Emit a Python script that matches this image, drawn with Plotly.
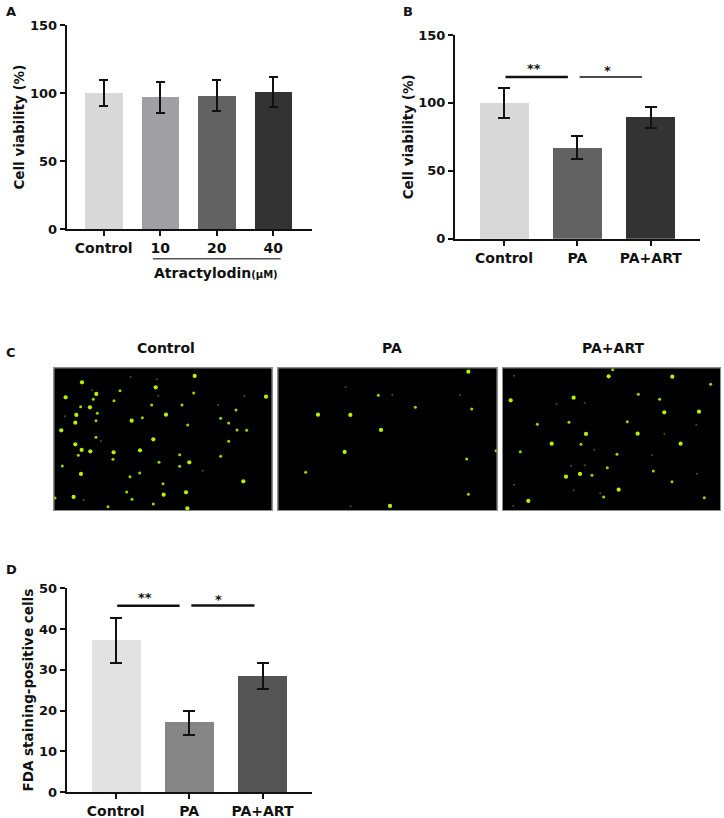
import plotly.graph_objects as go

W, H = 724, 818
FONT = "DejaVu Sans"

# Panel A
a_cats = ["Control", "10", "20", "40"]
a_vals = [100, 97, 98, 101]
a_err = [9.8, 11.4, 11.3, 11]
a_cols = ["#d8d8d8", "#a0a0a4", "#626262", "#333333"]
# Panel B
b_cats = ["Control", "PA", "PA+ART"]
b_vals = [100, 67, 89.5]
b_err = [11.3, 8.5, 7.7]
b_cols = ["#d8d8d8", "#626262", "#333333"]
# Panel D
d_cats = ["Control", "PA", "PA+ART"]
d_vals = [37.2, 17, 28.4]
d_err = [5.6, 2.9, 3.2]
d_cols = ["#e2e2e2", "#858585", "#555555"]

# Panel C: fluorescent spots (image units)
ctrl_large = [(246,157),(197,202),(467,172),(584,138),(798,200),(270,232),(229,255),(226,278),(395,272),(498,254),(184,301),(226,343),(245,360),(271,364),(420,361),(460,328),(243,432),(558,487),(491,494),(341,367),(289,192),(730,454),(568,397),(221,501),(562,535)]
ctrl_small = [(581,189),(242,230),(280,208),(342,212),(292,250),(288,272),(288,322),(427,263),(546,225),(662,265),(686,279),(711,300),(740,301),(708,240),(686,334),(539,374),(539,409),(662,379),(339,388),(235,376),(187,408),(390,440),(380,486),(396,508),(324,530),(460,522),(489,461),(419,429),(477,397),(563,285),(165,504),(360,182),(455,225)]
ctrl_dim = [(392,141),(276,180),(475,197),(195,259),(303,333),(608,422),(251,510),(654,225),(470,148),(733,199)]
pa_large = [(144,254),(241,255),(333,300),(224,366),(360,528),(595,125)]
pa_small = [(325,196),(436,232),(605,237),(595,493),(590,387),(107,427),(678,362)]
pa_dim = [(227,171),(570,195),(242,529),(367,194)]
art_large = [(47,211),(341,139),(532,140),(236,203),(508,247),(612,245),(273,312),(170,341),(557,341),(255,432),(213,440),(371,479),(100,513),(428,311)]
art_small = [(353,119),(647,163),(430,193),(494,208),(397,275),(222,277),(127,283),(258,343),(76,365),(366,373),(337,413),(291,436),(475,423),(531,455),(326,501),(628,503)]
art_dim = [(185,223),(269,218),(604,284),(298,359),(471,376),(228,407),(606,431),(236,481),(57,464),(316,490),(508,311),(55,528),(57,137),(269,406)]
c_titles = ["Control", "PA", "PA+ART"]


def px_x(a, b):
    return [a / W, b / W]


def px_y(top, bottom):
    return [1 - bottom / H, 1 - top / H]


fig = go.Figure()


def bars(n, cats, vals, err, cols, width, cap):
    fig.add_trace(go.Bar(
        x=cats, y=vals, marker=dict(color=cols, line_width=0), width=width,
        xaxis=f"x{n}", yaxis=f"y{n}", showlegend=False, hoverinfo="skip",
        error_y=dict(type="data", array=err, color="#111111", thickness=2, width=cap),
    ))


bars("", a_cats, a_vals, a_err, a_cols, 0.667, 4.7)
bars("2", b_cats, b_vals, b_err, b_cols, 0.668, 6)
bars("3", d_cats, d_vals, d_err, d_cols, 0.668, 6)


def spots(n, groups):
    for pts, size, col in groups:
        fig.add_trace(go.Scatter(
            x=[p[0] for p in pts], y=[p[1] for p in pts], mode="markers",
            marker=dict(size=size, color=col, line_width=0),
            xaxis=f"x{n}", yaxis=f"y{n}", showlegend=False, cliponaxis=True, hoverinfo="skip",
        ))


LARGE, SMALL, DIM = ("#b8f000", "#9ad800", "#3d6000")
spots("4", [(ctrl_dim, 2, DIM), (ctrl_small, 3, SMALL), (ctrl_large, 4.2, LARGE)])
spots("5", [(pa_dim, 2, DIM), (pa_small, 3, SMALL), (pa_large, 4.2, LARGE)])
spots("6", [(art_dim, 2, DIM), (art_small, 3, SMALL), (art_large, 4.2, LARGE)])

tick_x = dict(family=FONT, size=14, color="#111111", weight="bold")
tick_y = dict(family=FONT, size=13, color="#111111", weight="bold")
title_f = dict(family=FONT, size=13.5, color="#111111", weight="bold")


def bar_axes(n, xdom, ydom, xrange, yrange, dtick, title, standoff, cats):
    fig.update_layout(**{
        f"xaxis{n}": dict(
            domain=xdom, range=xrange, type="category", categoryorder="array", categoryarray=cats,
            showgrid=False, showline=True, linecolor="#111111", linewidth=2,
            ticks="outside", ticklen=5, tickwidth=2, tickcolor="#111111", tickfont=tick_x,
            anchor=f"y{n}", zeroline=False, automargin=False,
        ),
        f"yaxis{n}": dict(
            domain=ydom, range=yrange, dtick=dtick, tick0=0,
            showgrid=False, showline=True, linecolor="#111111", linewidth=2,
            ticks="outside", ticklen=5, tickwidth=2, tickcolor="#111111", tickfont=tick_y,
            title=dict(text=title, font=title_f, standoff=standoff),
            anchor=f"x{n}", zeroline=False, automargin=False,
        ),
    })


bar_axes("", px_x(66.7, 311.7), px_y(25, 229.3), [-0.655, 3.68], [0, 150], 50, "Cell viability (%)", 2, a_cats)
bar_axes("2", px_x(455, 700), px_y(35, 238.7), [-0.668, 2.67], [0, 150], 50, "Cell viability (%)", 2, b_cats)
bar_axes("3", px_x(66.7, 311.7), px_y(588.3, 792), [-0.668, 2.67], [0, 50], 10, "FDA staining-positive cells", 2, d_cats)


def image_axes(n, xdom, xrange):
    common = dict(showgrid=False, zeroline=False, showticklabels=False, ticks="",
                  showline=True, linecolor="#8c8c8c", linewidth=1, mirror=True, automargin=False)
    fig.update_layout(**{
        f"xaxis{n}": dict(domain=xdom, range=xrange, anchor=f"y{n}", **common),
        f"yaxis{n}": dict(domain=px_y(368.3, 510.3), range=[541, 115], anchor=f"x{n}", **common),
    })


image_axes("4", px_x(54.3, 271.7), [163, 815])
image_axes("5", px_x(278.3, 496.7), [25, 680])
image_axes("6", px_x(503, 720.3), [24, 676])


def line(xref, yref, x0, x1, y, width, color="#111111"):
    fig.add_shape(type="line", xref=xref, yref=yref, x0=x0, x1=x1, y0=y, y1=y,
                  line=dict(color=color, width=width))


line("x2", "y2", 0.02, 0.87, 119, 2.5)
line("x2", "y2", 1.03, 1.88, 119, 1.5)
line("x3", "y3", 0.02, 0.87, 45.7, 2.5)
line("x3", "y3", 1.03, 1.89, 45.8, 2.5)
line("x", "paper", 0.87, 3.13, 1 - 258.7 / H, 1.5, "#555555")


def text(s, x, y, size=13, bold=True):
    fig.add_annotation(text=s, xref="paper", yref="paper", x=x / W, y=1 - y / H,
                       xanchor="center", yanchor="middle", showarrow=False,
                       font=dict(family=FONT, size=size, color="#111111",
                                 weight="bold" if bold else "normal"))


for letter, x, y in [("A", 11, 12), ("B", 408, 12), ("C", 11, 352), ("D", 11, 569)]:
    text(letter, x, y, 13)
for t, x in zip(c_titles, [165.7, 392, 613]):
    text(t, x, 348, 14)
text("Atractylodin<span style='font-size:10px'>(μM)</span>", 216, 273, 14)
text("**", 533.7, 68, 13)
text("*", 607.7, 70, 13)
text("**", 145, 597, 13)
text("*", 219, 599, 13)

fig.update_layout(
    width=W, height=H, margin=dict(l=0, r=0, t=0, b=0), autosize=False,
    paper_bgcolor="white", plot_bgcolor="white", bargap=0, showlegend=False,
)
for n in ("4", "5", "6"):
    fig.add_shape(type="rect", xref=f"x{n} domain", yref=f"y{n} domain", x0=0, x1=1, y0=0, y1=1,
                  fillcolor="black", line_width=0, layer="below")

# The page's default body margin would otherwise push the figure off its 724x818 window.
fig.write_html("out.html", config={"displayModeBar": False},
               post_script="document.body.style.margin='0';var g=document.querySelector('.plotly-graph-div');g.style.position='fixed';g.style.left='0';g.style.top='0';")
